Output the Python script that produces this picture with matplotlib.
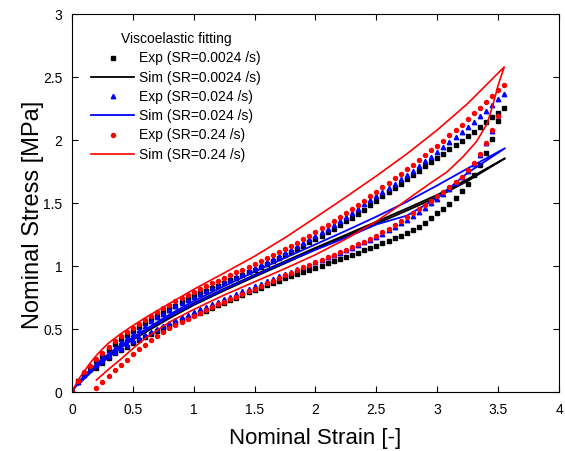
import matplotlib
matplotlib.use('Agg')
import matplotlib.pyplot as plt

plt.rcParams['font.family'] = ['Liberation Sans', 'DejaVu Sans']

# experimental data: loading branch (0 -> 3.55) and unloading branch (3.50 -> 0.20)
strain_load = [0.00, 0.05, 0.10, 0.15, 0.20, 0.25, 0.30, 0.35, 0.40, 0.45,
               0.50, 0.55, 0.60, 0.65, 0.70, 0.75, 0.80, 0.85, 0.90, 0.95,
               1.00, 1.05, 1.10, 1.15, 1.20, 1.25, 1.30, 1.35, 1.40, 1.45,
               1.50, 1.55, 1.60, 1.65, 1.70, 1.75, 1.80, 1.85, 1.90, 1.95,
               2.00, 2.05, 2.10, 2.15, 2.20, 2.25, 2.30, 2.35, 2.40, 2.45,
               2.50, 2.55, 2.60, 2.65, 2.70, 2.75, 2.80, 2.85, 2.90, 2.95,
               3.00, 3.05, 3.10, 3.15, 3.20, 3.25, 3.30, 3.35, 3.40, 3.45,
               3.50, 3.55]
strain_unload = [3.50, 3.45, 3.40, 3.35, 3.30, 3.25, 3.20, 3.15, 3.10, 3.05,
                 3.00, 2.95, 2.90, 2.85, 2.80, 2.75, 2.70, 2.65, 2.60, 2.55,
                 2.50, 2.45, 2.40, 2.35, 2.30, 2.25, 2.20, 2.15, 2.10, 2.05,
                 2.00, 1.95, 1.90, 1.85, 1.80, 1.75, 1.70, 1.65, 1.60, 1.55,
                 1.50, 1.45, 1.40, 1.35, 1.30, 1.25, 1.20, 1.15, 1.10, 1.05,
                 1.00, 0.95, 0.90, 0.85, 0.80, 0.75, 0.70, 0.65, 0.60, 0.55,
                 0.50, 0.45, 0.40, 0.35, 0.30, 0.25, 0.20]

exp_k_load = [0.000, 0.085, 0.145, 0.195, 0.243, 0.288, 0.335, 0.380, 0.420, 0.455,
              0.487, 0.516, 0.546, 0.577, 0.607, 0.634, 0.661, 0.686, 0.711, 0.736,
              0.760, 0.782, 0.803, 0.824, 0.845, 0.866, 0.886, 0.907, 0.928, 0.950,
              0.972, 0.994, 1.016, 1.039, 1.062, 1.085, 1.109, 1.134, 1.160, 1.187,
              1.215, 1.241, 1.268, 1.296, 1.325, 1.355, 1.385, 1.416, 1.448, 1.484,
              1.519, 1.553, 1.586, 1.620, 1.654, 1.688, 1.723, 1.758, 1.793, 1.828,
              1.859, 1.892, 1.925, 1.959, 1.994, 2.030, 2.067, 2.104, 2.142, 2.180,
              2.218, 2.255]
exp_k_unload = [2.149, 2.012, 1.898, 1.800, 1.722, 1.655, 1.595, 1.543, 1.496, 1.455,
                1.417, 1.378, 1.342, 1.309, 1.283, 1.260, 1.239, 1.220, 1.197, 1.181,
                1.161, 1.142, 1.124, 1.106, 1.089, 1.072, 1.055, 1.038, 1.021, 1.004,
                0.987, 0.970, 0.953, 0.936, 0.919, 0.902, 0.885, 0.868, 0.851, 0.829,
                0.812, 0.790, 0.772, 0.749, 0.731, 0.708, 0.690, 0.666, 0.647, 0.628,
                0.609, 0.589, 0.569, 0.548, 0.527, 0.505, 0.483, 0.460, 0.436, 0.412,
                0.387, 0.361, 0.334, 0.306, 0.270, 0.232, 0.192]

exp_b_load = [0.000, 0.080, 0.135, 0.180, 0.224, 0.266, 0.310, 0.352, 0.393, 0.429,
              0.462, 0.493, 0.524, 0.561, 0.592, 0.620, 0.648, 0.679, 0.705, 0.730,
              0.755, 0.778, 0.800, 0.827, 0.849, 0.871, 0.893, 0.915, 0.937, 0.964,
              0.987, 1.010, 1.033, 1.057, 1.081, 1.105, 1.130, 1.156, 1.183, 1.211,
              1.240, 1.268, 1.297, 1.327, 1.358, 1.390, 1.422, 1.455, 1.489, 1.521,
              1.555, 1.588, 1.621, 1.655, 1.689, 1.723, 1.758, 1.794, 1.830, 1.867,
              1.904, 1.942, 1.981, 2.021, 2.062, 2.104, 2.147, 2.190, 2.234, 2.278,
              2.322, 2.368]
exp_b_unload = [2.200, 2.070, 1.975, 1.885, 1.810, 1.755, 1.703, 1.658, 1.615, 1.575,
                1.536, 1.497, 1.461, 1.428, 1.397, 1.367, 1.338, 1.310, 1.283, 1.257,
                1.232, 1.209, 1.187, 1.166, 1.146, 1.126, 1.107, 1.088, 1.069, 1.050,
                1.031, 1.012, 0.993, 0.974, 0.955, 0.936, 0.917, 0.898, 0.878, 0.858,
                0.838, 0.818, 0.798, 0.778, 0.758, 0.738, 0.718, 0.698, 0.677, 0.656,
                0.635, 0.614, 0.593, 0.571, 0.549, 0.526, 0.503, 0.479, 0.454, 0.428,
                0.401, 0.373, 0.344, 0.314, 0.283, 0.250, 0.214]

exp_r_load = [0.000, 0.090, 0.155, 0.208, 0.259, 0.306, 0.355, 0.402, 0.443, 0.479,
              0.512, 0.543, 0.574, 0.606, 0.637, 0.665, 0.693, 0.719, 0.745, 0.770,
              0.795, 0.818, 0.840, 0.862, 0.884, 0.906, 0.928, 0.950, 0.972, 0.994,
              1.017, 1.040, 1.063, 1.087, 1.111, 1.135, 1.160, 1.186, 1.213, 1.241,
              1.270, 1.298, 1.327, 1.357, 1.388, 1.420, 1.452, 1.485, 1.519, 1.554,
              1.590, 1.625, 1.660, 1.696, 1.732, 1.768, 1.805, 1.842, 1.880, 1.918,
              1.956, 1.996, 2.037, 2.079, 2.122, 2.166, 2.211, 2.256, 2.302, 2.348,
              2.394, 2.440]
exp_r_unload = [2.190, 2.078, 1.975, 1.889, 1.820, 1.762, 1.710, 1.664, 1.624, 1.587,
                1.552, 1.517, 1.483, 1.450, 1.418, 1.386, 1.355, 1.325, 1.296, 1.268,
                1.242, 1.217, 1.194, 1.172, 1.150, 1.129, 1.109, 1.089, 1.069, 1.049,
                1.029, 1.009, 0.989, 0.968, 0.947, 0.926, 0.905, 0.884, 0.863, 0.842,
                0.821, 0.800, 0.779, 0.758, 0.737, 0.716, 0.695, 0.674, 0.652, 0.630,
                0.607, 0.583, 0.558, 0.534, 0.508, 0.479, 0.446, 0.412, 0.376, 0.338,
                0.298, 0.258, 0.218, 0.175, 0.130, 0.083, 0.035]

# simulated curves (loading then unloading)
sim_k_strain = [0.00, 0.02, 0.05, 0.10, 0.15, 0.20, 0.30, 0.40, 0.50, 0.60, 0.80,
                1.00, 1.25, 1.50, 1.75, 2.00, 2.25, 2.50, 2.75, 3.00, 3.25, 3.556,
                3.25, 3.00, 2.75, 2.50, 2.25, 2.00, 1.75, 1.50, 1.25, 1.00, 0.80,
                0.60, 0.40, 0.20, 0.10, 0.05]
sim_k_stress = [0.000, 0.030, 0.070, 0.125, 0.175, 0.220, 0.300, 0.370, 0.430, 0.488, 0.600,
                0.705, 0.820, 0.930, 1.038, 1.145, 1.248, 1.352, 1.457, 1.565, 1.690, 1.855,
                1.675, 1.548, 1.440, 1.335, 1.232, 1.130, 1.022, 0.915, 0.805, 0.690, 0.585,
                0.472, 0.355, 0.210, 0.115, 0.060]

sim_b_strain = [0.00, 0.02, 0.05, 0.10, 0.15, 0.20, 0.30, 0.40, 0.50, 0.60, 0.80,
                1.00, 1.25, 1.50, 1.75, 2.00, 2.25, 2.50, 2.75, 3.00, 3.25, 3.556,
                3.40, 3.25, 3.00, 2.75, 2.50, 2.25, 2.00, 1.75, 1.50, 1.25, 1.00,
                0.80, 0.60, 0.40, 0.30, 0.20, 0.10, 0.05]
sim_b_stress = [0.000, 0.030, 0.070, 0.125, 0.175, 0.220, 0.300, 0.370, 0.435, 0.495, 0.615,
                0.722, 0.840, 0.955, 1.065, 1.172, 1.280, 1.392, 1.510, 1.640, 1.775, 1.935,
                1.835, 1.740, 1.540, 1.400, 1.330, 1.225, 1.130, 1.030, 0.925, 0.815, 0.700,
                0.600, 0.485, 0.350, 0.275, 0.195, 0.105, 0.055]

sim_r_strain = [0.00, 0.02, 0.05, 0.10, 0.15, 0.20, 0.25, 0.30, 0.40, 0.50, 0.60,
                0.70, 0.80, 1.00, 1.25, 1.50, 1.75, 2.00, 2.25, 2.50, 2.75, 3.00,
                3.25, 3.55, 3.50, 3.46, 3.41, 3.32, 3.21, 3.08, 2.94, 2.80, 2.65,
                2.50, 2.25, 2.00, 1.75, 1.50, 1.25, 1.00, 0.80, 0.60, 0.50, 0.40,
                0.30, 0.20]
sim_r_stress = [0.000, 0.040, 0.095, 0.165, 0.230, 0.290, 0.342, 0.388, 0.462, 0.527, 0.588,
                0.645, 0.702, 0.815, 0.945, 1.078, 1.225, 1.385, 1.548, 1.715, 1.890, 2.080,
                2.290, 2.580, 2.435, 2.290, 2.130, 1.985, 1.866, 1.747, 1.655, 1.560, 1.455,
                1.355, 1.215, 1.090, 0.980, 0.875, 0.770, 0.655, 0.555, 0.425, 0.345, 0.260,
                0.180, 0.095]

x_ticks = [0, 0.5, 1, 1.5, 2, 2.5, 3, 3.5, 4]
x_ticklabels = ['0', '0.5', '1', '1.5', '2', '2.5', '3', '3.5', '4']
y_ticks = [0, 0.5, 1, 1.5, 2, 2.5, 3]
y_ticklabels = ['0', '0.5', '1', '1.5', '2', '2.5', '3']

BLACK = '#000000'
BLUE = '#0000ff'
RED = '#ff0000'

fig = plt.figure(figsize=(5.65, 4.51), dpi=100)
ax = fig.add_axes([0.1274, 0.1308, 0.862, 0.838])

ax.plot(strain_load + strain_unload, exp_k_load + exp_k_unload, 's', color=BLACK,
        markersize=2.6, label='Exp (SR=0.0024 /s)')
ax.plot(sim_k_strain, sim_k_stress, '-', color=BLACK, linewidth=1.3,
        label='Sim (SR=0.0024 /s)')
ax.plot(strain_load + strain_unload, exp_b_load + exp_b_unload, '^', color=BLUE,
        markersize=3.2, label='Exp (SR=0.024 /s)')
ax.plot(sim_b_strain, sim_b_stress, '-', color=BLUE, linewidth=1.3,
        label='Sim (SR=0.024 /s)')
ax.plot(strain_load + strain_unload, exp_r_load + exp_r_unload, 'o', color=RED,
        markersize=2.9, label='Exp (SR=0.24 /s)')
ax.plot(sim_r_strain, sim_r_stress, '-', color=RED, linewidth=1.2,
        label='Sim (SR=0.24 /s)')

ax.set_xlim(0, 4)
ax.set_ylim(0, 3)
ax.set_xticks(x_ticks)
ax.set_xticklabels(x_ticklabels)
ax.set_yticks(y_ticks)
ax.set_yticklabels(y_ticklabels)
ax.tick_params(direction='in', top=True, right=True, length=4, width=0.8,
               labelsize=10)
ax.tick_params(axis='x', pad=8)
ax.tick_params(axis='y', pad=7)
for sp in ax.spines.values():
    sp.set_linewidth(0.8)

ax.set_xlabel('Nominal Strain [-]', fontsize=16, labelpad=8)
ax.set_ylabel('Nominal Stress [MPa]', fontsize=17)
ax.yaxis.set_label_coords(-0.058, 0.47)

leg = ax.legend(loc='upper left', bbox_to_anchor=(0.028, 0.967), frameon=False,
                title='Viscoelastic fitting', fontsize=10, title_fontsize=10,
                handlelength=3.1, handletextpad=0.35, labelspacing=0.38,
                borderaxespad=0.0)

fig.savefig('out.png', dpi=100)
